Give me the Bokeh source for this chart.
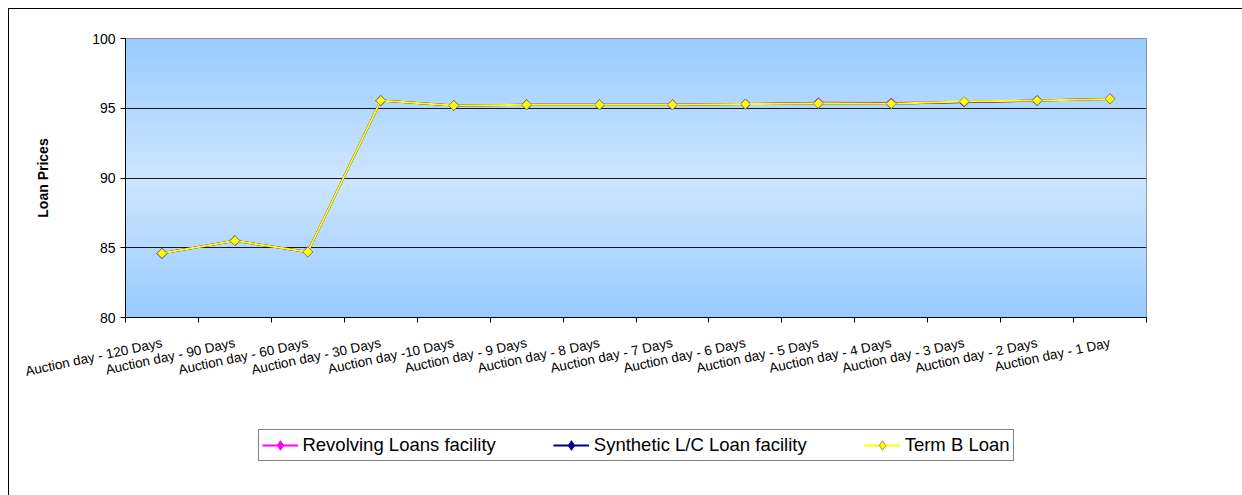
import numpy as np
from bokeh.plotting import figure
from bokeh.layouts import column
from bokeh.models import FixedTicker, Legend, LegendItem, Range1d
from bokeh.embed import file_html
from bokeh.resources import INLINE

categories = [
    "Auction day - 120 Days", "Auction day - 90 Days", "Auction day - 60 Days",
    "Auction day - 30 Days", "Auction day -10 Days", "Auction day - 9 Days",
    "Auction day - 8 Days", "Auction day - 7 Days", "Auction day - 6 Days",
    "Auction day - 5 Days", "Auction day - 4 Days", "Auction day - 3 Days",
    "Auction day - 2 Days", "Auction day - 1 Day",
]
revolving = [84.6, 85.5, 84.7, 95.55, 95.2, 95.25, 95.25, 95.25, 95.3, 95.4, 95.38, 95.45, 95.55, 95.68]
synthetic = [84.6, 85.5, 84.7, 95.55, 95.2, 95.25, 95.25, 95.25, 95.3, 95.35, 95.33, 95.45, 95.55, 95.67]
term_b = [84.6, 85.5, 84.7, 95.55, 95.2, 95.25, 95.25, 95.25, 95.3, 95.35, 95.33, 95.48, 95.55, 95.67]
y_ticks = [80, 85, 90, 95, 100]
series_names = ["Revolving Loans facility", "Synthetic L/C Loan facility", "Term B Loan"]
series_colors = ["#FF00FF", "#000080", "#FFFF00"]

n_cat = len(categories)
xc = np.arange(n_cat) + 0.5

FONT = "Liberation Sans"


def edge_of(color):
    return "#9a9a60" if color == "#FFFF00" else color


p = figure(width=1233, height=486, output_backend="svg", toolbar_location=None,
           x_range=Range1d(0, n_cat), y_range=Range1d(y_ticks[0], y_ticks[-1]),
           min_border_left=116, min_border_top=29, min_border_right=96, min_border_bottom=178)
p.background_fill_color = "#AFD6FF"
p.border_fill_color = "white"
p.outline_line_color = "#808080"
p.outline_line_width = 1

# vertical gradient background (light in the middle, blue at edges)
nrow = 300
t = np.linspace(0, 1, nrow)
f = 1 - np.abs(2 * t - 1)
img = np.empty((nrow, 1), dtype=np.uint32)
view = img.view(dtype=np.uint8).reshape((nrow, 1, 4))
view[:, 0, 0] = (153 + (206 - 153) * f).astype(np.uint8)
view[:, 0, 1] = (204 + (230 - 204) * f).astype(np.uint8)
view[:, 0, 2] = 255
view[:, 0, 3] = 255
p.image_rgba(image=[img], x=0, y=y_ticks[0], dw=n_cat, dh=y_ticks[-1] - y_ticks[0], level="image")

# grid
p.xgrid.visible = False
p.ygrid.ticker = FixedTicker(ticks=y_ticks)
p.ygrid.grid_line_color = "#1a1a1a"
p.ygrid.grid_line_width = 1

# y axis
p.yaxis.ticker = FixedTicker(ticks=y_ticks)
p.yaxis.major_tick_out = 5
p.yaxis.major_tick_in = 0
p.yaxis.minor_tick_out = 0
p.yaxis.minor_tick_in = 0
p.yaxis.major_label_standoff = 5
p.yaxis.major_label_text_font = FONT
p.yaxis.major_label_text_font_size = "14px"
p.yaxis.major_label_text_color = "black"
p.yaxis.axis_line_color = "black"
p.yaxis.major_tick_line_color = "black"
p.yaxis.axis_label = "Loan Prices"
p.yaxis.axis_label_text_font = FONT
p.yaxis.axis_label_text_font_style = "bold"
p.yaxis.axis_label_text_font_size = "14px"
p.yaxis.axis_label_text_color = "black"
p.yaxis.axis_label_standoff = 38

# x axis
p.xaxis.ticker = FixedTicker(ticks=list(xc), minor_ticks=list(range(n_cat + 1)))
p.xaxis.major_label_overrides = {float(v): c for v, c in zip(xc, categories)}
p.xaxis.major_tick_out = 0
p.xaxis.major_tick_in = 0
p.xaxis.minor_tick_out = 5
p.xaxis.minor_tick_in = 0
p.xaxis.minor_tick_line_color = "black"
p.xaxis.axis_line_color = "black"
p.xaxis.major_label_orientation = 0.21
p.xaxis.major_label_standoff = 20
p.xaxis.major_label_text_font = FONT
p.xaxis.major_label_text_font_size = "13.5px"
p.xaxis.major_label_text_color = "black"

for color, vals in zip(series_colors, [revolving, synthetic, term_b]):
    p.line(xc, vals, line_color=color, line_width=2)
    p.scatter(xc, vals, marker="square", angle=np.pi / 4, size=7,
              fill_color=color, line_color=edge_of(color), line_width=1)

# legend strip: a separate small canvas laid over the blank area under the axis labels.
# Its renderers carry the same series, but its y range keeps them out of view,
# so only the legend keys (line + diamond) are drawn.
q = figure(width=1233, height=40, output_backend="svg", toolbar_location=None,
           x_axis_location=None, y_axis_location=None,
           x_range=Range1d(0, n_cat), y_range=Range1d(0, 1),
           min_border_left=22, min_border_right=0, min_border_top=0, min_border_bottom=0)
q.xgrid.visible = False
q.ygrid.visible = False
q.outline_line_color = None
q.background_fill_alpha = 0
q.border_fill_alpha = 0
items = []
for name, color, vals in zip(series_names, series_colors, [revolving, synthetic, term_b]):
    r_line = q.line(xc, vals, line_color=color, line_width=2)
    r_key = q.scatter(xc, vals, marker="diamond", fill_color=color,
                      line_color=edge_of(color), line_width=1)
    items.append(LegendItem(label=name, renderers=[r_line, r_key]))
legend = Legend(items=items, orientation="horizontal", location="center")
legend.border_line_color = "black"
legend.border_line_width = 1
legend.background_fill_color = "white"
legend.background_fill_alpha = 1
legend.label_text_font = FONT
legend.label_text_font_size = "18.5px"
legend.label_text_color = "black"
legend.glyph_width = 36
legend.glyph_height = 24
legend.label_standoff = 5
legend.spacing = 57
legend.padding = 3
legend.margin = 0
q.add_layout(legend, "center")
q.styles = {"position": "relative", "top": "-70px"}

layout = column(p, q, spacing=0)
layout.styles = {"margin-left": "8px", "margin-top": "8px",
                 "border-left": "1px solid black", "border-top": "1px solid black"}

open("out.html", "w").write(file_html(layout, INLINE))
